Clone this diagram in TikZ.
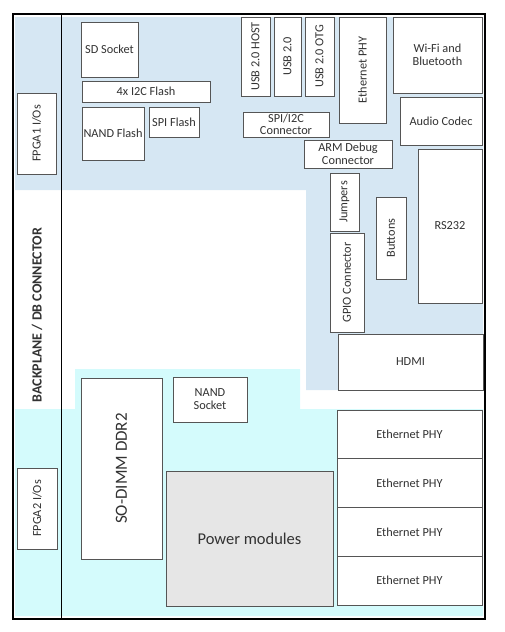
\documentclass[tikz,border=0pt]{standalone}
\usepackage{fontspec}
\setmainfont{Carlito}
\usepackage{tikz}
\usetikzlibrary{positioning,calc}
\definecolor{topblue}{RGB}{214,231,243}
\definecolor{lowcyan}{RGB}{212,251,252}
\definecolor{pwrgray}{RGB}{230,230,230}
\definecolor{txtgray}{RGB}{50,50,50}
\definecolor{boxline}{RGB}{85,85,85}
\tikzset{
  blk/.style={draw=boxline,line width=0.8pt,fill=white,inner sep=0pt,align=center,
    text=txtgray,font=\fontsize{12.3}{13}\selectfont},
  rblk/.style={blk,rotate=90}
}
\begin{document}
\begin{tikzpicture}[x=1pt,y=-1pt]
\useasboundingbox (0,0) rectangle (505,632);
% shaded zones
\fill[topblue] (15,17) -- (483,17) -- (483,390) -- (306,390) -- (306,190) -- (15,190) -- cycle;
\fill[lowcyan] (15,409) -- (75,409) -- (75,369) -- (300,369) -- (300,409) -- (483,409) -- (483,616) -- (15,616) -- cycle;
\draw[line width=1.4pt] (13,14) rectangle (485,619);
\draw[line width=0.9pt] (61,14) -- (61,619);
\node[rotate=90,text=txtgray,font=\bfseries\fontsize{14}{15}\selectfont] (bp) at (37,315) {BACKPLANE / DB CONNECTOR};
% upper left
\node[rblk,minimum width=81,minimum height=39] (fpgaA) at (36.5,133.5) {FPGA1 I/Os};
\node[blk,minimum width=57,minimum height=55] (sd) at (109.5,49.5) {SD Socket};
\node[blk,minimum width=128,minimum height=21] (iicflash) at (146,91.5) {4x I2C Flash};
\node[blk,minimum width=62,minimum height=53] (nandflash) at (113,133.5) {NAND Flash};
\node[blk,minimum width=50,minimum height=30] (spiflash) at (174,122) {SPI Flash};
% upper right
\node[rblk,minimum width=79,minimum height=29] (usbhost) at (255.5,56.5) {USB 2.0 HOST};
\node[rblk,minimum width=79,minimum height=27] (usb) at (287.5,56.5) {USB 2.0};
\node[rblk,minimum width=79,minimum height=29] (usbotg) at (319.5,56.5) {USB 2.0 OTG};
\node[rblk,minimum width=106,minimum height=47] (ethtop) at (362.5,70) {Ethernet PHY};
\node[blk,minimum width=89,minimum height=76] (wifi) at (437.5,55) {Wi-Fi and\\Bluetooth};
\node[blk,minimum width=82,minimum height=48] (audio) at (441,121) {Audio Codec};
\node[blk,minimum width=86,minimum height=25,font=\fontsize{12.3}{11.5}\selectfont] (spiiic) at (286,124.5) {SPI/I2C\\Connector};
\node[blk,minimum width=88,minimum height=28,font=\fontsize{12.3}{12.5}\selectfont] (armdbg) at (348,154) {ARM Debug\\Connector};
\node[blk,minimum width=64,minimum height=154] (rs) at (450,226) {RS232};
\node[rblk,minimum width=58,minimum height=29] (jump) at (344.5,202) {Jumpers};
\node[rblk,minimum width=82,minimum height=30] (btn) at (391,238) {Buttons};
\node[rblk,minimum width=99,minimum height=34] (gpio) at (347,282.5) {GPIO Connector};
\node[blk,minimum width=145,minimum height=56] (hdmi) at (410.5,362) {HDMI};
% lower part
\node[rblk,minimum width=81,minimum height=40] (fpgaB) at (37,508.5) {FPGA2 I/Os};
\node[rblk,minimum width=181,minimum height=81,font=\fontsize{17}{18}\selectfont] (sodimm) at (121.5,468.5) {SO-DIMM DDR2};
\node[blk,minimum width=74,minimum height=45] (nandsock) at (210,399.5) {NAND\\Socket};
\node[blk,fill=pwrgray,minimum width=167,minimum height=135,font=\fontsize{16.5}{17}\selectfont] (power) at (249.5,538.5) {Power modules};
\foreach \k in {0,...,3}
  \node[blk,minimum width=145,minimum height=48.75] (eth\k) at (409.5,{434.4+48.75*\k}) {Ethernet PHY};
\end{tikzpicture}
\end{document}
